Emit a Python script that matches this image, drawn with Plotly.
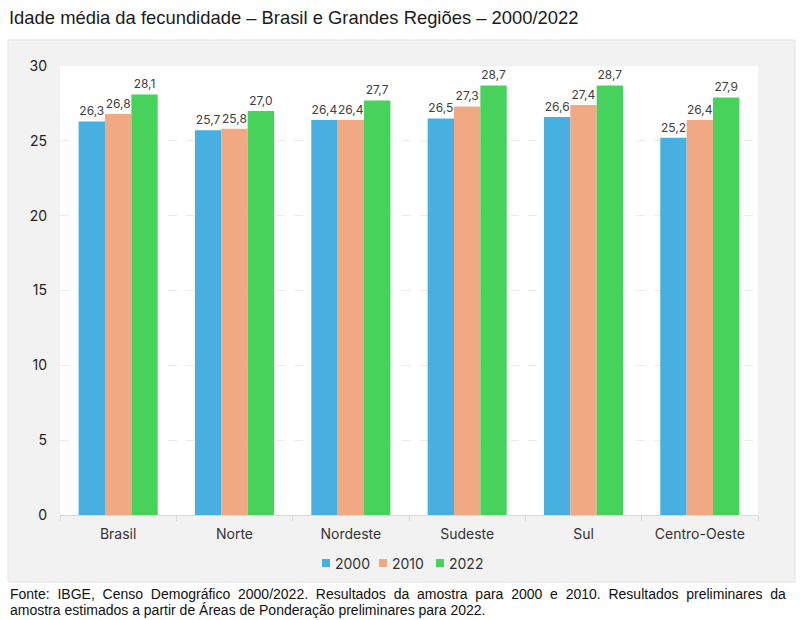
import plotly.graph_objects as go

regioes = ["Brasil", "Norte", "Nordeste", "Sudeste", "Sul", "Centro-Oeste"]
anos = ["2000", "2010", "2022"]
v2000 = [26.3, 25.7, 26.4, 26.5, 26.6, 25.2]
v2010 = [26.8, 25.8, 26.4, 27.3, 27.4, 26.4]
v2022 = [28.1, 27.0, 27.7, 28.7, 28.7, 27.9]
cores = ["#47B0E0", "#F1A983", "#47D35B"]
y_ticks = [0, 5, 10, 15, 20, 25, 30]
fonte1 = "Fonte: IBGE, Censo Demográfico 2000/2022. Resultados da amostra para 2000 e 2010. Resultados preliminares da"
fonte2 = "amostra estimados a partir de Áreas de Ponderação preliminares para 2022."

W, H = 800, 620
L, R, T, B = 60, 42, 66, 105
pw, ph = W - L - R, H - T - B

def px(x):
    return (x - L) / pw

def py(y):
    return (H - B - y) / ph

fig = go.Figure()
for ano, vals, cor in zip(anos, [v2000, v2010, v2022], cores):
    fig.add_trace(go.Bar(
        x=regioes, y=vals, name=ano, marker=dict(color=cor, line=dict(width=0)),
        texttemplate="%{y:.1f}", textposition="outside", cliponaxis=False,
        textfont=dict(family="Inter, Roboto, sans-serif", size=12, color="#404040"),
        showlegend=False,
    ))

annotations = [
    dict(text="Idade média da fecundidade – Brasil e Grandes Regiões – 2000/2022",
         xref="paper", yref="paper", x=px(7), y=py(18), xanchor="left", yanchor="middle",
         showarrow=False, font=dict(family="Liberation Sans, Arial, sans-serif", size=18.4, color="#1a1a1a")),
    dict(text=fonte1.replace(" ", " \u00a0"),
         xref="paper", yref="paper", x=px(8), y=py(594), xanchor="left", yanchor="middle",
         showarrow=False, font=dict(family="Liberation Sans, Arial, sans-serif", size=14, color="#111111")),
    dict(text=fonte2,
         xref="paper", yref="paper", x=px(8), y=py(610), xanchor="left", yanchor="middle",
         showarrow=False, font=dict(family="Liberation Sans, Arial, sans-serif", size=14, color="#111111")),
]

# compact legend (library legend cannot be made this tight)
leg_x0, leg_step, leg_y = 322, 57, 563
legend_shapes = []
for i, (ano, cor) in enumerate(zip(anos, cores)):
    x = leg_x0 + i * leg_step
    legend_shapes.append(dict(type="rect", xref="paper", yref="paper",
                              x0=px(x), x1=px(x + 8), y0=py(leg_y + 4), y1=py(leg_y - 4),
                              fillcolor=cor, line=dict(width=0)))
    annotations.append(dict(text=ano, xref="paper", yref="paper", x=px(x + 11), y=py(leg_y),
                            xanchor="left", yanchor="middle", showarrow=False,
                            font=dict(family="Inter, Roboto, sans-serif", size=14, color="#333333")))

fig.update_layout(
    width=W, height=H,
    margin=dict(l=L, r=R, t=T, b=B),
    paper_bgcolor="white", plot_bgcolor="rgba(0,0,0,0)",
    separators=",.",
    barmode="group", bargap=0.32, bargroupgap=0,
    showlegend=False,
    font=dict(family="Inter, Roboto, sans-serif", color="#333333"),
    xaxis=dict(showgrid=False, showline=True, linecolor="#d9d9d9", linewidth=1,
               ticks="outside", tickson="boundaries", ticklen=5, tickcolor="#d9d9d9",
               ticklabelstandoff=6,
               tickfont=dict(size=14, color="#333333"), fixedrange=True),
    yaxis=dict(range=[0, 30], tickvals=y_ticks, showgrid=True, gridcolor="#ebebeb",
               griddash="dash", gridwidth=1, zeroline=False, showline=False,
               ticks="", ticklabelstandoff=12,
               tickfont=dict(size=14, color="#222222"), fixedrange=True),
    shapes=[
        dict(type="rect", xref="paper", yref="paper", x0=px(8), x1=px(795), y0=py(582), y1=py(40),
             fillcolor="#f2f2f2", line=dict(color="#e4e4e4", width=1), layer="below"),
        dict(type="rect", xref="paper", yref="paper", x0=0, x1=1, y0=0, y1=1,
             fillcolor="white", line=dict(width=0), layer="below"),
    ] + legend_shapes,
    annotations=annotations,
)

fig.write_html("out.html")
